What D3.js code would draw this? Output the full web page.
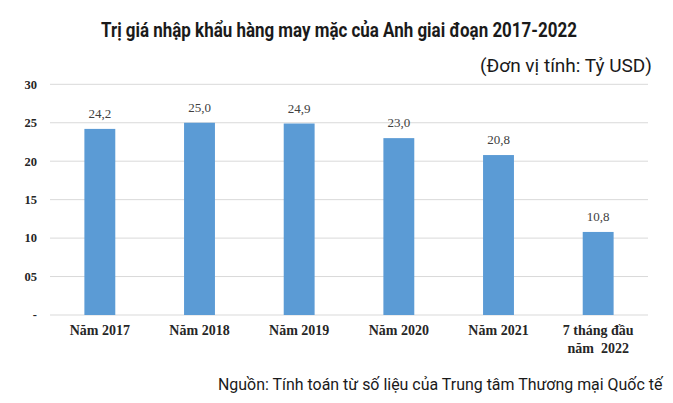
<!DOCTYPE html>
<html>
<head>
<meta charset="utf-8">
<script src="https://cdn.jsdelivr.net/npm/d3@7"></script>
<style>
  body { margin: 0; background: #fff; }
  svg { display: block; }
</style>
</head>
<body>
<div id="chart"></div>
<script>
// chart data
var categories = ['Năm 2017', 'Năm 2018', 'Năm 2019', 'Năm 2020', 'Năm 2021', '7 tháng đầu|năm  2022'];
var values = [24.2, 25.0, 24.9, 23.0, 20.8, 10.8];
var yTicks = [0, 5, 10, 15, 20, 25, 30];
var yTickLabels = ['-', '05', '10', '15', '20', '25', '30'];

var width = 673, height = 403;
var margin = { top: 84.3, right: 25, bottom: 88, left: 50 };

var svg = d3.select('#chart').append('svg')
  .attr('width', width)
  .attr('height', height);

var x = d3.scaleBand()
  .domain(categories)
  .range([margin.left, 648])
  .paddingInner(0.69)
  .paddingOuter(0.345);

var y = d3.scaleLinear()
  .domain([0, 30])
  .range([315, 84.3]);

// gridlines
svg.append('g')
  .selectAll('line')
  .data(yTicks)
  .enter()
  .append('line')
  .attr('x1', margin.left)
  .attr('x2', 648)
  .attr('y1', function(d) { return y(d); })
  .attr('y2', function(d) { return y(d); })
  .attr('stroke', '#d9d9d9')
  .attr('stroke-width', 1);

// y axis labels
svg.append('g')
  .selectAll('text')
  .data(yTicks)
  .enter()
  .append('text')
  .attr('x', 37)
  .attr('y', function(d) { return y(d); })
  .attr('dy', '0.35em')
  .attr('text-anchor', 'end')
  .attr('font-family', 'Liberation Serif, serif')
  .attr('font-weight', 'bold')
  .attr('font-size', 12.5)
  .attr('fill', '#262626')
  .text(function(d, i) { return yTickLabels[i]; });

// bars
svg.append('g')
  .selectAll('rect')
  .data(values)
  .enter()
  .append('rect')
  .attr('x', function(d, i) { return x(categories[i]); })
  .attr('width', x.bandwidth())
  .attr('y', function(d) { return y(d); })
  .attr('height', function(d) { return y(0) - y(d); })
  .attr('fill', '#5b9bd5');

// value labels
svg.append('g')
  .selectAll('text')
  .data(values)
  .enter()
  .append('text')
  .attr('x', function(d, i) { return x(categories[i]) + x.bandwidth() / 2; })
  .attr('y', function(d) { return y(d) - 11; })
  .attr('text-anchor', 'middle')
  .attr('font-family', 'Liberation Serif, serif')
  .attr('font-size', 13)
  .attr('fill', '#404040')
  .text(function(d) { return d.toFixed(1).replace('.', ','); });

// category labels
var cat = svg.append('g')
  .selectAll('text')
  .data(categories)
  .enter()
  .append('text')
  .attr('x', function(d) { return x(d) + x.bandwidth() / 2; })
  .attr('y', 335)
  .attr('text-anchor', 'middle')
  .attr('font-family', 'Liberation Serif, serif')
  .attr('font-weight', 'bold')
  .attr('font-size', 14)
  .attr('fill', '#262626')
  .style('white-space', 'pre');

cat.each(function(d) {
  var lines = d.split('|');
  var t = d3.select(this);
  lines.forEach(function(l, i) {
    t.append('tspan')
      .attr('x', t.attr('x'))
      .attr('dy', i === 0 ? 0 : 18)
      .text(l);
  });
});

// condensed text: squeeze a Roboto line horizontally to a target width
function narrowText(str, x0, y0, w, size, weight) {
  var t = svg.append('text')
    .attr('x', 0)
    .attr('y', 0)
    .attr('font-family', 'Roboto, sans-serif')
    .attr('font-weight', weight)
    .attr('font-size', size)
    .attr('fill', '#1a1a1a')
    .text(str);
  var k = w / t.node().getComputedTextLength();
  t.attr('transform', 'translate(' + x0 + ',' + y0 + ') scale(' + k + ',1)');
  return t;
}

narrowText('Trị giá nhập khẩu hàng may mặc của Anh giai đoạn 2017-2022', 101, 37, 476, 21, 'bold');
narrowText('(Đơn vị tính: Tỷ USD)', 480, 72, 172, 19, 'normal');
narrowText('Nguồn: Tính toán từ số liệu của Trung tâm Thương mại Quốc tế', 218, 390, 445, 17, 'normal');
</script>
</body>
</html>
